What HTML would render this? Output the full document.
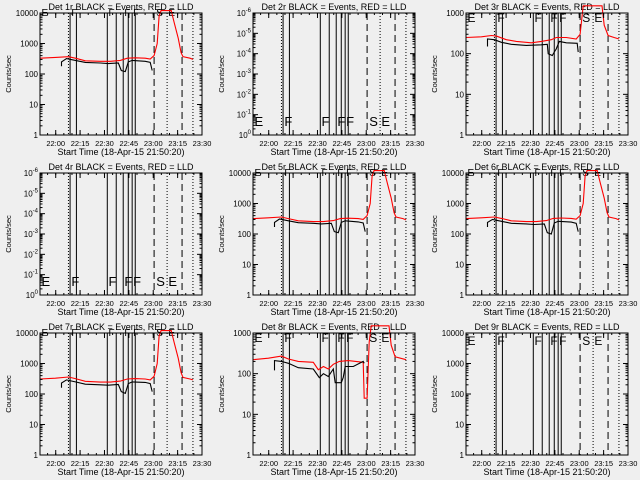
<!DOCTYPE html>
<html><head><meta charset="utf-8"><style>
body{margin:0;background:#efefef}
svg{display:block}
text{font-family:"Liberation Sans",sans-serif;fill:#000}
</style></head><body>
<svg id="c" width="640" height="480" viewBox="0 0 640 480"></svg>
<script>
// x data in minutes after 21:50:20
const xTickLabels = ["22:00","22:15","22:30","22:45","23:00","23:15","23:30"];
const xTickMinutes = [9.67,24.67,39.67,54.67,69.67,84.67,99.67];
const solidLines = [18.5,22.4,41.4,46.9,51.2,54.3,56.7,58.6];
const dashedLines = [70.2,87.4];
const dottedLines = [17.5,78.2,94.1];
const flagLetters = ["E","F","F","F","F","S","E"];
const flagTimes = [0.3,18.7,41.5,51.3,56.7,70.9,78.4];

const redT1 = [0,9.5,17.5,21.8,27.9,37.1,43.3,49.4,53.7,58.6,64.7,67.8,70.2,72.1,73.3,74.5,80.7,82.5,85,86.8,88,92.3,94.2];
const redV1 = [330,350,370,330,270,260,260,280,330,340,330,310,400,1000,8000,12000,12000,5000,1500,500,370,330,300];
const blkT1 = [13.2,13.2,16.3,21.8,27.9,37.1,42,48.2,50,52.5,54.3,56.7,64.7,67.8,69];
const blkV1 = [180,250,320,280,240,230,220,230,130,120,250,280,260,240,130];

const redT3 = [0,9.5,15.6,18.7,24.8,31,40.2,46.3,52.5,55.5,61.7,67.8,70.2,72.1,83.7,85,87.4,91.1,94.2];
const redV3 = [250,260,280,270,220,200,185,200,220,250,250,230,300,1500,1500,500,280,250,230];
const blkT3 = [13.2,13.2,17.5,21.8,27.9,37.1,46.3,50,50.6,53.1,54.3,55.5,57.4,61.7,68.4,69];
const blkV3 = [150,230,220,190,170,160,165,170,100,90,110,130,200,185,180,110];

const redT8 = [0,9.5,17.5,21.8,27.9,37.1,40.2,43.3,46.3,49.4,53.1,58.6,67.8,68.4,70.2,71.5,72.7,83.7,85,87.4,94.2];
const redV8 = [220,240,270,230,200,190,125,150,130,170,200,210,190,25,25,600,1500,1500,500,260,220];
const blkT8 = [13.2,13.2,17.5,21.8,27.9,37.1,40.8,43.3,46.3,49.4,50.6,54.3,55.5,56.7,61.7,67.8,68.4];
const blkV8 = [120,210,200,180,140,130,80,100,85,130,60,60,80,150,150,200,180];

const redV5 = [320,340,360,320,270,255,255,275,320,330,320,300,400,1000,8000,12000,12000,5000,1500,500,360,320,290];
const blkV5 = [170,240,310,270,235,225,215,225,120,110,240,270,250,230,120];
const redV6 = [320,340,360,325,270,255,255,275,325,335,325,305,400,1000,8000,12000,12000,5000,1500,500,360,320,290];
const blkV6 = [170,240,300,260,225,215,205,215,110,100,230,260,245,225,120];
const redV7 = [310,330,360,320,260,245,245,265,310,320,310,290,380,1000,8000,12000,12000,5000,1500,500,350,310,290];
const blkV7 = [160,230,290,250,210,200,195,205,120,105,220,250,240,220,120];

const panels = [
 {n:1,ox:0,oy:0,dec:4,red:[redT1,redV1],blk:[blkT1,blkV1]},
 {n:2,ox:213,oy:0,dec:6,pow:true},
 {n:3,ox:426,oy:0,dec:3,red:[redT3,redV3],blk:[blkT3,blkV3]},
 {n:4,ox:0,oy:160,dec:6,pow:true},
 {n:5,ox:213,oy:160,dec:4,red:[redT1,redV5],blk:[blkT1,blkV5]},
 {n:6,ox:426,oy:160,dec:4,red:[redT1,redV6],blk:[blkT1,blkV6]},
 {n:7,ox:0,oy:320,dec:4,red:[redT1,redV7],blk:[blkT1,blkV7]},
 {n:8,ox:213,oy:320,dec:3,red:[redT8,redV8],blk:[blkT8,blkV8]},
 {n:9,ox:426,oy:320,dec:4,empty:true}
];
const NS="http://www.w3.org/2000/svg";
const svg=document.getElementById('c');
function mk(tag,attrs,parent){const e=document.createElementNS(NS,tag);for(const k in attrs)e.setAttribute(k,attrs[k]);(parent||svg).appendChild(e);return e;}
const L=40,R=202,T=13,B=135,TMAX=99.67;
panels.forEach(p=>{
 const g=mk('g',{transform:`translate(${p.ox},${p.oy})`});
 
 
 const xs=t=>L+(R-L)*t/TMAX;
 const ys=v=>B-(B-T)*Math.log10(Math.max(v,1e-9))/p.dec;
 const cid='clip'+p.n;
 const cp=mk('clipPath',{id:cid},g);mk('rect',{x:L,y:T-12,width:R-L,height:B-T+12},cp);
 const tt=mk('text',{x:121,y:10,'font-size':9,'text-anchor':'middle'},g);
 tt.textContent=`Det ${p.n}r BLACK = Events, RED = LLD`;
 
 
 const lg=mk('g',{stroke:'#000','stroke-width':1},g);
 
 
 solidLines.forEach(t=>mk('line',{x1:xs(t),x2:xs(t),y1:T,y2:B},lg));
 dashedLines.forEach(t=>mk('line',{x1:xs(t),x2:xs(t),y1:T,y2:B,'stroke-dasharray':'7,4'},lg));
 dottedLines.forEach(t=>mk('line',{x1:xs(t),x2:xs(t),y1:T,y2:B,'stroke-dasharray':'1,2'},lg));
 const fy = p.pow ? 126 : (p.dec==3 ? 22 : (p.empty ? 25 : 16));
 const fs = p.pow ? 13 : (p.dec==3 || p.empty ? 12 : 10);
 flagLetters.forEach((s,i)=>{const e=mk('text',{x:xs(flagTimes[i])+1,y:fy,'font-size':fs,'font-weight':'300'},g);e.textContent=s;
  
  });
 const drawS=(d,col,name)=>{if(!d)return;const pts=d[0].map((t,i)=>xs(t).toFixed(1)+','+ys(d[1][i]).toFixed(1)).join(' ');
  const pl=mk('polyline',{points:pts,fill:'none',stroke:col,'stroke-width':1.1,'clip-path':`url(#${cid})`},g);
  
  };
 drawS(p.red,'#ff0000','lld-series');
 drawS(p.blk,'#000000','events-series');
 const ax=mk('rect',{x:L,y:T,width:R-L,height:B-T,fill:'none',stroke:'#000','stroke-width':1},g);
 
 
 xTickMinutes.forEach((t,i)=>{const x=xs(t);
  mk('line',{x1:x,x2:x,y1:B,y2:B-5,stroke:'#000'},g);mk('line',{x1:x,x2:x,y1:T,y2:T+5,stroke:'#000'},g);
  const e=mk('text',{x:x,y:B+11,'font-size':7.5,'text-anchor':'middle'},g);e.textContent=xTickLabels[i];
  
  });
 for(let t=-0.33;t<TMAX;t+=5){const x=xs(t);if(x<L)continue;mk('line',{x1:x,x2:x,y1:B,y2:B-2,stroke:'#000'},g);mk('line',{x1:x,x2:x,y1:T,y2:T+2,stroke:'#000'},g);}
 const xt=mk('text',{x:121,y:B+20,'font-size':9,'text-anchor':'middle'},g);xt.textContent='Start Time (18-Apr-15 21:50:20)';
 
 
 const yt=mk('text',{x:0,y:0,'font-size':7.5,'text-anchor':'middle',transform:`translate(11,${(T+B)/2}) rotate(-90)`},g);yt.textContent='Counts/sec';
 
 
 for(let d=0;d<=p.dec;d++){const y=ys(Math.pow(10,d));
  mk('line',{x1:L,x2:L+5,y1:y,y2:y,stroke:'#000'},g);mk('line',{x1:R,x2:R-5,y1:y,y2:y,stroke:'#000'},g);
  const e=mk('text',{x:L-2,y:y+3,'font-size':8,'text-anchor':'end'},g);
  if(p.pow){e.textContent='10';const s=mk('tspan',{dy:-4,'font-size':6},e);s.textContent=d==0?'0':'-'+d;}
  else e.textContent=String(Math.pow(10,d));
  
  
  if(d<p.dec)for(let m=2;m<10;m++){const yy=ys(m*Math.pow(10,d));mk('line',{x1:L,x2:L+2.5,y1:yy,y2:yy,stroke:'#000'},g);mk('line',{x1:R,x2:R-2.5,y1:yy,y2:yy,stroke:'#000'},g);}
 }
});
</script>
</body></html>
